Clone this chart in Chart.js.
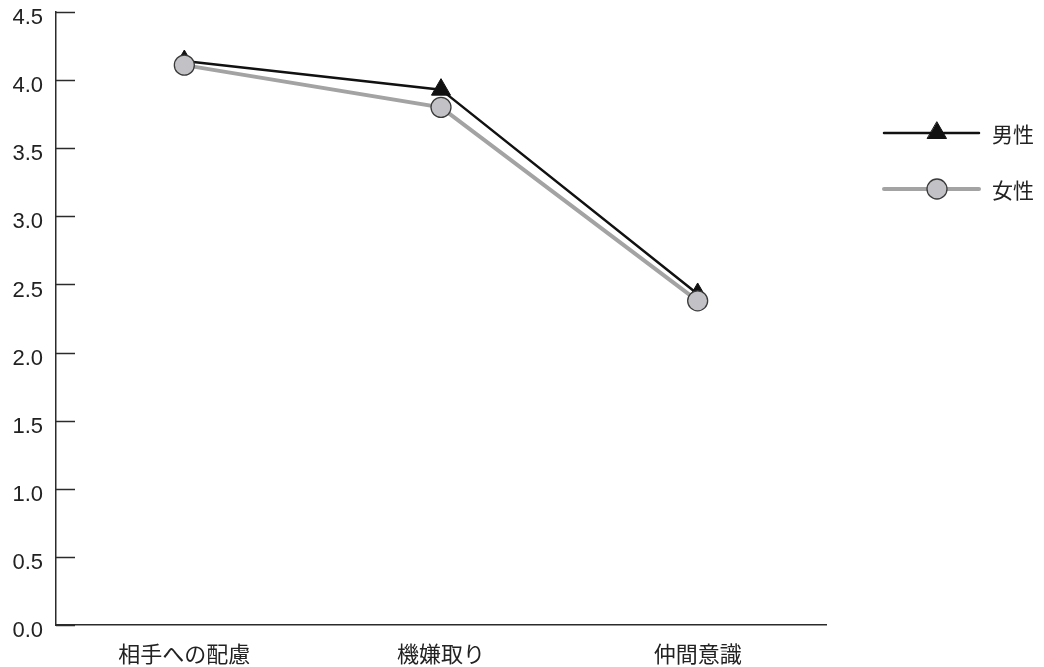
<!DOCTYPE html>
<html>
<head>
<meta charset="utf-8">
<script src="https://cdn.jsdelivr.net/npm/chart.js@4/dist/chart.umd.min.js"></script>
<style>
  html, body { margin: 0; padding: 0; background: #fff; }
  #wrap { width: 1044px; height: 667px; position: relative; }
</style>
</head>
<body>
<div id="wrap"><canvas id="c" width="1044" height="667"></canvas></div>
<script>
// Categories and mean scores per group
const categories = ['相手への配慮', '機嫌取り', '仲間意識'];
const maleValues = [4.14, 3.93, 2.43];
const femaleValues = [4.11, 3.80, 2.38];
const seriesNames = ['男性', '女性'];
const yTicks = [0, 0.5, 1, 1.5, 2, 2.5, 3, 3.5, 4, 4.5];

const NUM_FONT = "'Liberation Sans', Arial, sans-serif";
const CJK_FONT = "'Noto Sans CJK JP', 'Noto Sans CJK SC', sans-serif";

// Short tick marks drawn inside the plot, from the y scale's own tick positions
const innerTicks = {
  id: 'innerTicks',
  afterDraw(chart) {
    const y = chart.scales.y;
    const ctx = chart.ctx;
    const left = chart.chartArea.left;
    ctx.save();
    ctx.strokeStyle = '#2b2b2b';
    ctx.lineWidth = 1.5;
    y.ticks.forEach(t => {
      const py = Math.round(y.getPixelForValue(t.value)) + 0.5;
      ctx.beginPath();
      ctx.moveTo(left, py);
      ctx.lineTo(left + 19, py);
      ctx.stroke();
    });
    ctx.restore();
  }
};

// Legend with line + marker samples, to the right of the plot
const sideLegend = {
  id: 'sideLegend',
  afterDraw(chart) {
    const ctx = chart.ctx;
    const items = [
      { ds: chart.data.datasets[1], y: 133 },
      { ds: chart.data.datasets[0], y: 189 }
    ];
    ctx.save();
    items.forEach(it => {
      const ds = it.ds;
      ctx.strokeStyle = ds.borderColor;
      ctx.lineWidth = ds.borderWidth;
      ctx.lineCap = 'round';
      ctx.beginPath();
      ctx.moveTo(884, it.y);
      ctx.lineTo(979, it.y);
      ctx.stroke();
      ctx.fillStyle = ds.pointBackgroundColor;
      ctx.strokeStyle = ds.pointBorderColor;
      ctx.lineWidth = ds.pointBorderWidth;
      Chart.helpers.drawPoint(ctx, {
        pointStyle: ds.pointStyle,
        radius: ds.pointRadius,
        borderWidth: ds.pointBorderWidth,
        rotation: 0
      }, 937, it.y);
      ctx.fillStyle = '#222';
      ctx.font = '21px ' + CJK_FONT;
      ctx.textBaseline = 'middle';
      ctx.textAlign = 'left';
      ctx.fillText(ds.label, 992, it.y + 1);
    });
    ctx.restore();
  }
};

new Chart(document.getElementById('c'), {
  type: 'line',
  data: {
    labels: categories,
    datasets: [
      {
        label: seriesNames[1],
        data: femaleValues,
        borderColor: '#a3a3a3',
        borderWidth: 4,
        pointStyle: 'circle',
        pointRadius: 10,
        pointHoverRadius: 10,
        pointBackgroundColor: '#c2c2c6',
        pointBorderColor: '#3a3a3a',
        pointBorderWidth: 1.3,
        tension: 0
      },
      {
        label: seriesNames[0],
        data: maleValues,
        borderColor: '#111111',
        borderWidth: 2.5,
        pointStyle: 'triangle',
        pointRadius: 11,
        pointHoverRadius: 11,
        pointBackgroundColor: '#111111',
        pointBorderColor: '#111111',
        pointBorderWidth: 1,
        tension: 0
      }
    ]
  },
  options: {
    responsive: false,
    animation: false,
    events: [],
    layout: { padding: { left: 0, right: 218, top: 8, bottom: 0 } },
    plugins: {
      legend: { display: false },
      tooltip: { enabled: false }
    },
    scales: {
      x: {
        offset: true,
        grid: { display: false, drawTicks: false },
        border: { display: true, color: '#2b2b2b', width: 1.5 },
        ticks: {
          color: '#222',
          font: { family: CJK_FONT, size: 22 },
          padding: 15
        },
        afterFit(scale) {
          scale.height = 42;
          scale.paddingLeft = 0;
          scale.paddingRight = 0;
        }
      },
      y: {
        min: 0,
        max: 4.5,
        afterBuildTicks(scale) {
          scale.ticks = yTicks.map(v => ({ value: v }));
        },
        grid: { display: false, drawTicks: false },
        border: { display: true, color: '#2b2b2b', width: 1.5 },
        ticks: {
          color: '#222',
          font: { family: NUM_FONT, size: 22 },
          padding: 13,
          labelOffset: 6,
          callback: v => Number(v).toFixed(1)
        },
        afterFit(scale) {
          scale.width = 56;
          scale.paddingTop = 0;
          scale.paddingBottom = 0;
        }
      }
    }
  },
  plugins: [innerTicks, sideLegend]
});
</script>
</body>
</html>
